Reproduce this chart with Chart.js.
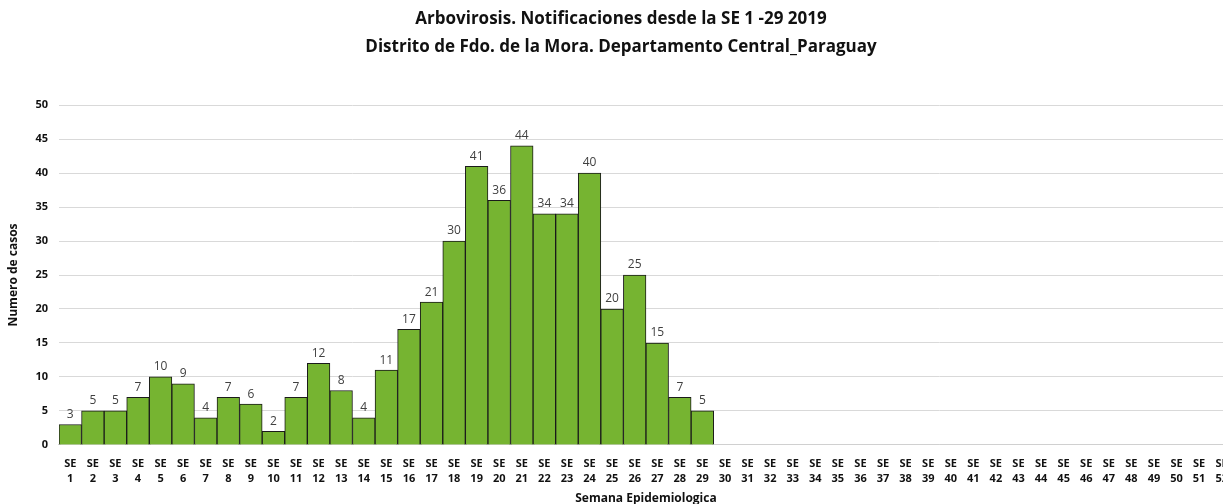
<!DOCTYPE html>
<html>
<head>
<meta charset="utf-8">
<script src="https://cdn.jsdelivr.net/npm/chart.js@4"></script>
<style>
  html, body { margin: 0; padding: 0; background: #fff; overflow: hidden; }
</style>
</head>
<body>
<canvas id="chart" width="1240" height="506"></canvas>
<script>
const WEEKS = Array.from({ length: 52 }, (_, i) => ['SE', String(i + 1)]);
const CASES = [3, 5, 5, 7, 10, 9, 4, 7, 6, 2, 7, 12, 8, 4, 11, 17, 21, 30, 41, 36, 44, 34, 34, 40, 20, 25, 15, 7, 5];
const Y_TICKS = [0, 5, 10, 15, 20, 25, 30, 35, 40, 45, 50];

const FONT = "'Open Sans', 'Noto Sans', sans-serif";

// values above the bars
const valueLabels = {
  id: 'valueLabels',
  afterDatasetsDraw(chart) {
    const ctx = chart.ctx;
    const meta = chart.getDatasetMeta(0);
    ctx.save();
    ctx.font = '12px ' + FONT;
    ctx.fillStyle = '#404040';
    ctx.textAlign = 'center';
    ctx.textBaseline = 'bottom';
    meta.data.forEach((bar, i) => {
      const v = CASES[i];
      if (v == null) return;
      ctx.fillText(String(v), bar.x, bar.y - 4);
    });
    ctx.restore();
  }
};

new Chart(document.getElementById('chart'), {
  type: 'bar',
  data: {
    labels: WEEKS,
    datasets: [{
      label: 'Casos',
      data: CASES,
      backgroundColor: '#76b431',
      borderColor: '#1a1a1a',
      borderWidth: 1,
      barPercentage: 1,
      categoryPercentage: 1,
    }]
  },
  options: {
    responsive: false,
    animation: false,
    layout: { padding: { left: 6, right: 4, top: 0, bottom: 0 } },
    scales: {
      x: {
        grid: { display: false, drawTicks: false },
        border: { color: '#d0d0d0', width: 1 },
        ticks: {
          maxRotation: 0,
          autoSkip: false,
          padding: 12,
          color: '#111',
          font: { family: FONT, size: 11, weight: 'bold', lineHeight: 1.35 },
        },
        title: {
          display: true,
          text: 'Semana Epidemiologica',
          color: '#111',
          padding: { top: -7, bottom: 0 },
          font: { family: FONT, size: 12, weight: 'bold' },
        },
      },
      y: {
        min: 0,
        max: 50,
        afterBuildTicks(axis) {
          axis.ticks = Y_TICKS.map(v => ({ value: v }));
        },
        grid: { color: '#d9d9d9', drawTicks: false },
        border: { display: false },
        ticks: {
          padding: 11,
          color: '#111',
          font: { family: FONT, size: 11, weight: 'bold' },
        },
        title: {
          display: true,
          text: 'Numero de casos',
          color: '#111',
          padding: { top: 0, bottom: 4 },
          font: { family: FONT, size: 12, weight: 'bold' },
        },
      },
    },
    plugins: {
      legend: { display: false },
      tooltip: { enabled: false },
      title: {
        display: true,
        text: ['Arbovirosis. Notificaciones desde la SE 1 -29 2019', 'Distrito de Fdo. de la Mora. Departamento Central_Paraguay'],
        color: '#111',
        font: { family: FONT, size: 17, weight: 'bold', lineHeight: 1.65 },
        padding: { top: 5, bottom: 44 },
      },
    },
  },
  plugins: [valueLabels],
});
</script>
</body>
</html>
